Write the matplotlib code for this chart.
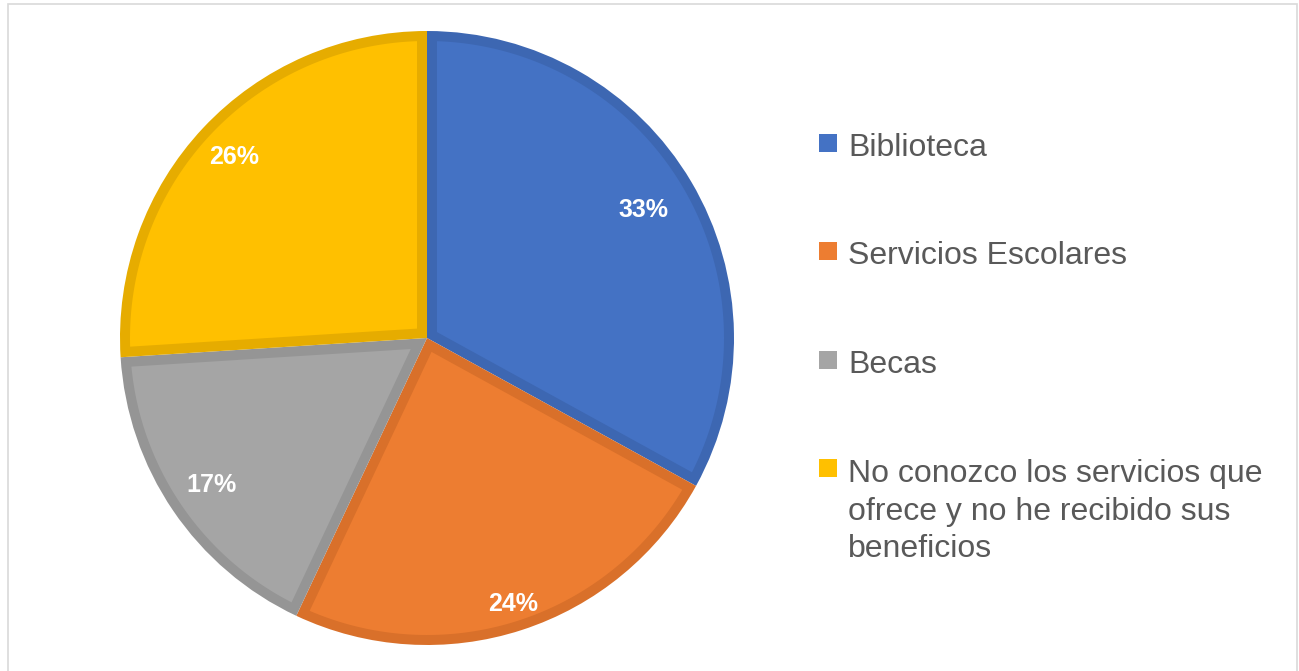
import matplotlib
matplotlib.use("Agg")
import matplotlib.pyplot as plt
from matplotlib.patches import Rectangle, Polygon
import numpy as np

categories = ["Biblioteca", "Servicios Escolares", "Becas",
              "No conozco los servicios que\nofrece y no he recibido sus\nbeneficios"]
values = [33, 24, 17, 26]
pct_labels = ["33%", "24%", "17%", "26%"]
colors = ["#4472C4", "#ED7D31", "#A5A5A5", "#FFC000"]
edge_colors = ["#3D67B2", "#D9702A", "#959595", "#E6AC00"]
label_dist = [0.82, 0.91, 0.85, 0.86]

W, H = 1299, 671
fig = plt.figure(figsize=(W / 100, H / 100), dpi=100)
fig.patch.set_facecolor("white")

# outer light border
fig.add_artist(Rectangle((8 / W, -0.01), (1297 - 8) / W, (H - 4) / H + 0.01,
                         transform=fig.transFigure, fill=False,
                         edgecolor="#D9D9D9", linewidth=1.2))

cx, cy, R = 427, 338, 307
ax = fig.add_axes([(cx - R) / W, (H - cy - R) / H, 2 * R / W, 2 * R / H])
# dark wedges (border colour), then lighter inset fills
wedges, _ = ax.pie(values, colors=edge_colors, startangle=90, counterclock=False,
                   radius=1.0, wedgeprops=dict(linewidth=0))
band = 10.0 / R
rho = 1.0 - band
for w, col in zip(wedges, colors):
    a1, a2 = np.deg2rad(w.theta1), np.deg2rad(w.theta2)
    h = (a2 - a1) / 2
    b = (a1 + a2) / 2
    apex = (band / np.sin(h)) * np.array([np.cos(b), np.sin(b)])
    t = np.sqrt(rho ** 2 - band ** 2)
    delta = np.arctan2(band, t)
    arc = np.linspace(a1 + delta, a2 - delta, 200)
    pts = np.vstack([apex, np.column_stack([rho * np.cos(arc), rho * np.sin(arc)])])
    ax.add_patch(Polygon(pts, closed=True, facecolor=col, edgecolor="none"))

for w, lab, d in zip(wedges, pct_labels, label_dist):
    ang = np.deg2rad((w.theta1 + w.theta2) / 2)
    ax.text(d * np.cos(ang), d * np.sin(ang), lab, ha="center", va="center",
            color="white", fontsize=18, fontweight="bold", family="Liberation Sans")
ax.set_xlim(-1, 1)
ax.set_ylim(-1, 1)
ax.set_aspect("auto")
ax.axis("off")

# legend
square_y = [156, 264, 373, 481]
text_baselines = [156, 264, 373, 557]
for lab, col, ys, yb in zip(categories, colors, square_y, text_baselines):
    fig.add_artist(Rectangle((819 / W, (H - (ys - 4)) / H), 18 / W, 18 / H,
                             transform=fig.transFigure, facecolor=col,
                             edgecolor="none"))
    fig.text(848 / W, (H - yb) / H, lab, ha="left", va="baseline",
             fontsize=23, color="#595959", family="Liberation Sans",
             linespacing=1.32)

fig.savefig("out.png", dpi=100)
